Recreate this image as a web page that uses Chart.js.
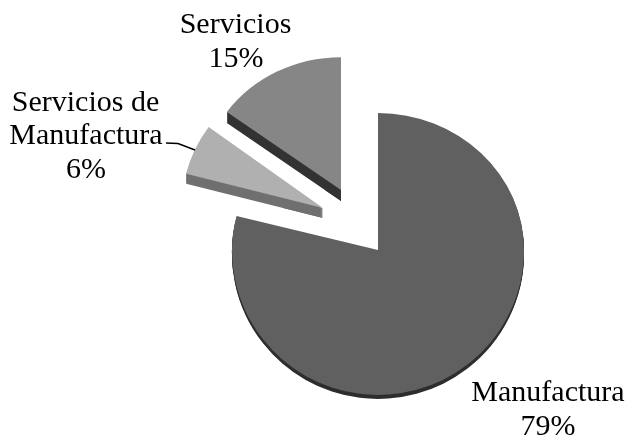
<!DOCTYPE html>
<html lang="es">
<head>
    <meta charset="UTF-8">
    <title>Participación por sector</title>
    <script src="https://cdn.jsdelivr.net/npm/chart.js"></script>
    <style>
        html, body { margin: 0; padding: 0; background: #fff; }
        canvas { display: block; }
    </style>
</head>
<body>
    <canvas id="grafico" width="626" height="439"></canvas>

    <script>
        const categorias = ['Manufactura', 'Servicios de Manufactura', 'Servicios'];
        const valores = [79, 6, 15];
        const coloresCara = ['#606060', '#b0b0b0', '#868686'];
        const coloresLado = ['#2e2e2e', '#707070', '#333333'];

        // desplazamiento de cada porción y su aplastamiento por la perspectiva
        const vistas = [
            { dx: 0, dy: 0, sx: 1, syArriba: 0.938, syAbajo: 0.993, grosor: 4 },
            { dx: -55, dy: -42, sx: 0.968, syArriba: 0.945, syAbajo: 0.945, grosor: 10 },
            { dx: -37, dy: -60, sx: 0.966, syArriba: 0.91, syAbajo: 0.91, grosor: 11 }
        ];

        function pintarPorcion(ctx, arco, vista, sy, color, bajar, clip) {
            const opcionesOriginales = arco.options;
            if (color) {
                arco.options = { backgroundColor: color, borderColor: color, borderWidth: 0, offset: 0, spacing: 0, borderRadius: 0, circular: true, borderAlign: 'center' };
            }
            ctx.save();
            if (clip) {
                ctx.beginPath();
                ctx.rect(0, clip.y, 626, clip.h);
                ctx.clip();
            }
            ctx.translate(arco.x + vista.dx, arco.y + vista.dy + bajar);
            ctx.scale(vista.sx, sy);
            ctx.translate(-arco.x, -arco.y);
            arco.draw(ctx);
            ctx.restore();
            arco.options = opcionesOriginales;
        }

        const porciones3d = {
            id: 'porciones3d',
            beforeDatasetDraw(chart, args) {
                const ctx = chart.ctx;
                args.meta.data.forEach((arco, i) => {
                    const vista = vistas[i];
                    const corte = arco.y + vista.dy;
                    for (let g = vista.grosor; g > 0; g--) {
                        pintarPorcion(ctx, arco, vista, vista.syAbajo, coloresLado[i], g, { y: corte, h: 439 });
                        pintarPorcion(ctx, arco, vista, vista.syArriba, coloresLado[i], g, { y: 0, h: corte + g });
                    }
                    pintarPorcion(ctx, arco, vista, vista.syArriba, null, 0, { y: 0, h: corte });
                    pintarPorcion(ctx, arco, vista, vista.syAbajo, null, 0, { y: corte, h: 439 });
                });
                return false;
            }
        };

        const etiquetas = {
            id: 'etiquetas',
            afterDraw(chart) {
                const ctx = chart.ctx;
                ctx.save();
                ctx.fillStyle = '#000';
                ctx.font = '30px "Liberation Serif"';
                ctx.textAlign = 'center';
                ctx.textBaseline = 'alphabetic';
                ctx.fillText(categorias[2], 235.5, 33);
                ctx.fillText(valores[2] + '%', 236, 67);
                ctx.fillText('Servicios de', 85.5, 111);
                ctx.fillText('Manufactura', 86, 144);
                ctx.fillText(valores[1] + '%', 86, 178);
                ctx.fillText(categorias[0], 548, 401);
                ctx.fillText(valores[0] + '%', 548, 435);

                ctx.strokeStyle = '#000';
                ctx.lineWidth = 1.6;
                ctx.beginPath();
                ctx.moveTo(166, 143);
                ctx.lineTo(178, 143.5);
                ctx.lineTo(195, 150);
                ctx.stroke();
                ctx.restore();
            }
        };

        new Chart(document.getElementById('grafico').getContext('2d'), {
            type: 'pie',
            data: {
                labels: categorias,
                datasets: [{
                    data: valores,
                    backgroundColor: coloresCara,
                    borderWidth: 0
                }]
            },
            options: {
                responsive: false,
                animation: false,
                radius: 146,
                layout: { padding: { left: 130, top: 61 } },
                plugins: {
                    legend: { display: false },
                    tooltip: { enabled: false }
                }
            },
            plugins: [porciones3d, etiquetas]
        });
    </script>
</body>
</html>
